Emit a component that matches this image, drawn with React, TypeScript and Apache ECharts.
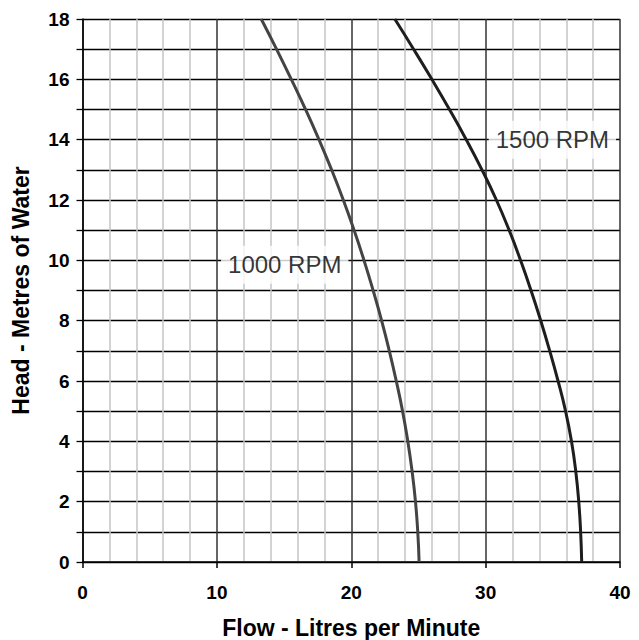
import React, { useEffect, useRef } from "react";
import * as echarts from "echarts";

const headLevels = [0, 1, 2, 3, 4, 5, 6, 7, 8, 9, 10, 11, 12, 13, 14, 15, 16, 17, 18];
const flow1000 = [25.05, 24.95, 24.78, 24.53, 24.21, 23.82, 23.35, 22.83, 22.26, 21.63, 20.95, 20.21, 19.41, 18.54, 17.6, 16.6, 15.54, 14.44, 13.3];
const flow1500 = [37.15, 37.07, 36.93, 36.71, 36.39, 35.95, 35.39, 34.77, 34.1, 33.38, 32.6, 31.75, 30.8, 29.73, 28.56, 27.31, 26.0, 24.64, 23.24];
const curveLabels = ["1000 RPM", "1500 RPM"];
const labelAnchors = [
  [15.05, 9.85],
  [34.97, 14.0],
];
const xTitle = "Flow - Litres per Minute";
const yTitle = "Head - Metres of Water";

const FONT = "'Liberation Sans', Arial, sans-serif";

export default function App() {
  const ref = useRef<HTMLDivElement>(null);
  useEffect(() => {
    if (!ref.current) return;
    const chart = echarts.init(ref.current, undefined, { renderer: "svg" });
    const d1000 = headLevels.map((h, i) => [flow1000[i], h]);
    const d1500 = headLevels.map((h, i) => [flow1500[i], h]);
    chart.setOption({
      animation: false,
      backgroundColor: "#ffffff",
      grid: {
        left: 82.5,
        right: 19,
        top: 19,
        bottom: 78,
        containLabel: false,
        outerBoundsMode: "none",
      },
      xAxis: {
        type: "value",
        min: 0,
        max: 40,
        interval: 10,
        name: xTitle,
        nameLocation: "middle",
        nameGap: 54,
        nameTextStyle: { fontFamily: FONT, fontWeight: "bold", fontSize: 23, color: "#000" },
        axisLine: { show: true, onZero: false, lineStyle: { color: "#000", width: 1.5 } },
        axisTick: { show: true, length: 6, lineStyle: { color: "#000", width: 1.5 } },
        axisLabel: { fontFamily: FONT, fontWeight: "bold", fontSize: 19, color: "#000", margin: 21 },
        splitLine: { show: true, lineStyle: { color: "#333", width: 1.5 } },
        minorTick: { show: false, splitNumber: 5 },
        minorSplitLine: { show: true, lineStyle: { color: "#c4c4c4", width: 1.5 } },
      },
      yAxis: {
        type: "value",
        min: 0,
        max: 18,
        interval: 1,
        name: yTitle,
        nameLocation: "middle",
        nameGap: 50,
        nameTextStyle: { fontFamily: FONT, fontWeight: "bold", fontSize: 23, color: "#000" },
        axisLine: { show: true, onZero: false, lineStyle: { color: "#000", width: 1.5 } },
        axisTick: { show: true, length: 6, lineStyle: { color: "#000", width: 1.3 } },
        axisLabel: {
          fontFamily: FONT,
          fontWeight: "bold",
          fontSize: 19,
          color: "#000",
          margin: 13,
          formatter: (v: number) => (v % 2 === 0 ? String(v) : ""),
        },
        splitLine: { show: true, lineStyle: { color: "#000", width: 1.3 } },
      },
      series: [
        {
          type: "line",
          name: curveLabels[0],
          data: d1000,
          smooth: 0.5,
          showSymbol: false,
          lineStyle: { color: "#444", width: 3 },
          z: 3,
        },
        {
          type: "line",
          name: curveLabels[1],
          data: d1500,
          smooth: 0.5,
          showSymbol: false,
          lineStyle: { color: "#1e1e1e", width: 3 },
          z: 3,
        },
        {
          type: "scatter",
          symbolSize: 0,
          data: labelAnchors.map((p, i) => ({ value: p, name: curveLabels[i] })),
          z: 4,
          label: {
            show: true,
            position: "inside",
            formatter: (p: any) => p.name,
            fontFamily: FONT,
            fontSize: 24,
            color: "#000",
            backgroundColor: "#fff",
            padding: [7, 7],
          },
          emphasis: { disabled: true },
        },
      ],
    });
    return () => chart.dispose();
  }, []);
  return (
    <div
      ref={ref}
      style={{ position: "fixed", left: 0, top: 0, width: 639, height: 640 }}
    />
  );
}
